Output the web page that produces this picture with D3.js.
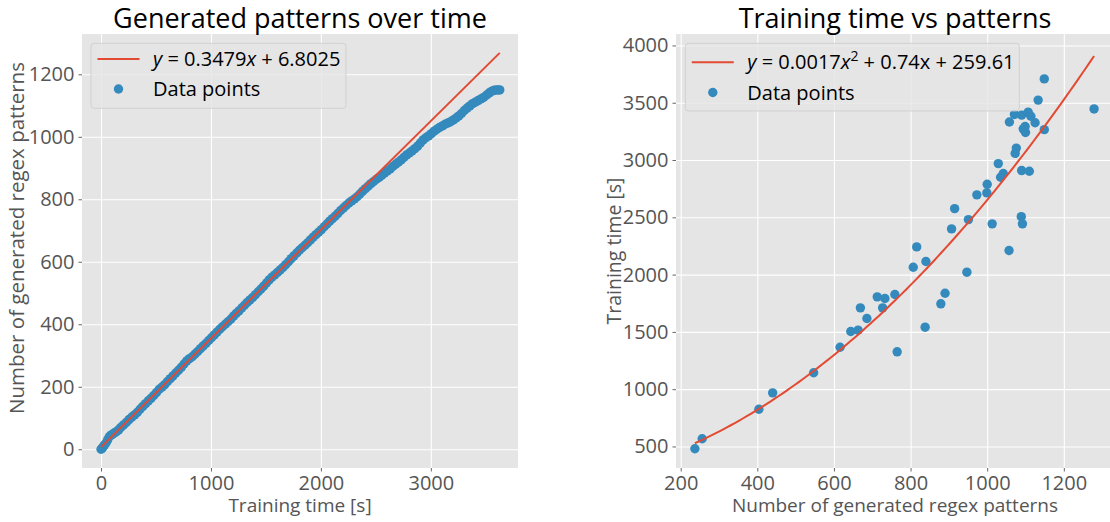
<!DOCTYPE html>
<html>
<head>
<meta charset="utf-8">
<script src="https://cdn.jsdelivr.net/npm/d3@7"></script>
<style>
  html, body { margin: 0; padding: 0; background: #ffffff; }
  svg { display: block; font-family: "Open Sans", "Noto Sans", sans-serif; }
</style>
</head>
<body>
<svg id="chart" width="1110" height="522"></svg>
<script>
// ---- Left panel: cumulative number of generated patterns vs training time ----
const trainTime = [0, 10, 20, 30, 45, 60, 75, 90, 105, 120, 140, 160, 180, 205, 230, 255, 280, 305,
  330, 355, 380, 405, 430, 455, 480, 505, 530, 555, 580, 605, 630, 655, 680, 705, 730, 755, 780,
  805, 830, 855, 880, 905, 930, 955, 980, 1005, 1030, 1055, 1080, 1105, 1130, 1155, 1180, 1205,
  1230, 1255, 1280, 1305, 1330, 1355, 1380, 1405, 1430, 1455, 1480, 1505, 1530, 1555, 1580, 1605,
  1630, 1655, 1680, 1705, 1730, 1755, 1780, 1805, 1830, 1855, 1880, 1905, 1930, 1955, 1980, 2005,
  2030, 2055, 2080, 2105, 2130, 2155, 2180, 2205, 2230, 2255, 2280, 2305, 2330, 2355, 2380, 2405,
  2430, 2455, 2480, 2505, 2530, 2555, 2580, 2605, 2630, 2655, 2680, 2705, 2730, 2755, 2780, 2805,
  2830, 2855, 2880, 2905, 2930, 2955, 2980, 3005, 3030, 3055, 3080, 3105, 3130, 3155, 3180, 3205,
  3230, 3255, 3280, 3305, 3330, 3355, 3380, 3405, 3430, 3455, 3480, 3505, 3530, 3550, 3570, 3590,
  3610, 3627];
const patternCount = [0, 3, 8, 13, 20, 30, 40, 45, 48, 52, 56, 62, 70, 78, 86, 95, 103, 110,
  118, 128, 137, 146, 155, 163, 172, 182, 192, 199, 207, 217, 226, 235, 244, 253, 262, 273, 283,
  290, 296, 305, 313, 322, 331, 339, 348, 357, 366, 375, 384, 392, 400, 408, 416, 426,
  435, 443, 452, 461, 470, 478, 486, 495, 504, 513, 522, 532, 542, 551, 558, 566,
  574, 582, 591, 600, 610, 619, 628, 637, 645, 653, 661, 670, 679, 687, 695, 703,
  712, 721, 730, 738, 746, 755, 764, 772, 780, 788, 795, 801, 808, 817, 826, 834,
  842, 850, 857, 864, 870, 877, 884, 891, 897, 905, 912, 919, 926, 934, 942, 948,
  955, 962, 970, 980, 990, 997, 1003, 1010, 1018, 1024, 1030, 1035, 1040, 1044, 1048, 1054,
  1060, 1067, 1075, 1084, 1092, 1099, 1106, 1111, 1116, 1121, 1126, 1133, 1140, 1145, 1148, 1150,
  1150, 1150];
const linearFit = [0.3479, 6.8025];          // slope, intercept
const leftXTicks = [0, 1000, 2000, 3000];
const leftYTicks = [0, 200, 400, 600, 800, 1000, 1200];

// ---- Right panel: training time vs number of generated patterns ----
const patternsN = [237, 256, 404, 440, 547, 616, 644, 663, 686, 669, 713, 727, 733, 759, 765, 807,
  816, 840, 838, 879, 890, 947, 1057, 907, 915, 951, 973, 1000, 999, 1013, 1029, 1042, 1035,
  1073, 1076, 1090, 1110, 1089, 1092, 1058, 1071, 1090, 1107, 1114, 1125, 1094, 1099, 1100,
  1133, 1149, 1279, 1149];
const trainingSecs = [480, 567, 825, 968, 1143, 1366, 1503, 1515, 1617, 1710, 1806, 1710, 1791, 1826,
  1326, 2064, 2242, 2114, 1541, 1745, 1837, 2021, 2210, 2399, 2576, 2480, 2696, 2788, 2713, 2443,
  2969, 2882, 2850, 3058, 3104, 2908, 2902, 2506, 2443, 3332, 3398, 3392, 3418, 3382, 3325, 3272,
  3292, 3240, 3523, 3265, 3446, 3708];
const quadFit = [0.001652, 0.74, 259.61];   // a, b, c of a*x^2 + b*x + c
const rightXTicks = [200, 400, 600, 800, 1000, 1200];
const rightYTicks = [500, 1000, 1500, 2000, 2500, 3000, 3500, 4000];

const C = {
  bg: "#E5E5E5", grid: "#FFFFFF", blue: "#348ABD", red: "#E24A33",
  tick: "#555555", legendEdge: "#CCCCCC"
};
const FS = { tick: 20, label: 19, legend: 20, title: 27 };
const MARKER_R = 4.7;

const svg = d3.select("#chart");
const plotTop = 34, plotBottom = 468;

function panel(opts) {
  const g = svg.append("g");
  const x = d3.scaleLinear().domain(opts.xDomain).range([opts.left, opts.right]);
  const y = d3.scaleLinear().domain(opts.yDomain).range([plotBottom, plotTop]);

  g.append("rect")
    .attr("x", opts.left).attr("y", plotTop)
    .attr("width", opts.right - opts.left).attr("height", plotBottom - plotTop)
    .attr("fill", C.bg);

  // grid
  const gx = g.append("g").attr("transform", `translate(0,${plotBottom})`)
    .call(d3.axisBottom(x).tickValues(opts.xTicks).tickSize(-(plotBottom - plotTop)).tickFormat(""));
  const gy = g.append("g").attr("transform", `translate(${opts.left},0)`)
    .call(d3.axisLeft(y).tickValues(opts.yTicks).tickSize(-(opts.right - opts.left)).tickFormat(""));
  [gx, gy].forEach(a => {
    a.select(".domain").remove();
    a.selectAll("line").attr("stroke", C.grid).attr("stroke-width", 1.1);
  });

  // tick marks and labels
  const ax = g.append("g").attr("transform", `translate(0,${plotBottom})`)
    .call(d3.axisBottom(x).tickValues(opts.xTicks).tickSize(3.5).tickPadding(4).tickFormat(d3.format("d")));
  const ay = g.append("g").attr("transform", `translate(${opts.left},0)`)
    .call(d3.axisLeft(y).tickValues(opts.yTicks).tickSize(3.5).tickPadding(4).tickFormat(d3.format("d")));
  [ax, ay].forEach(a => {
    a.select(".domain").remove();
    a.selectAll("line").attr("stroke", C.tick).attr("stroke-width", 0.9);
    a.selectAll("text").attr("fill", C.tick).attr("font-size", FS.tick)
      .attr("font-family", '"Open Sans", sans-serif');
  });
  ax.selectAll("text").attr("dy", null).attr("y", 22);

  // title and axis labels
  const cx = (opts.left + opts.right) / 2;
  svg.append("text").attr("x", cx).attr("y", 28).attr("text-anchor", "middle")
    .attr("font-size", FS.title).attr("fill", "#000").text(opts.title);
  svg.append("text").attr("x", cx).attr("y", 512).attr("text-anchor", "middle")
    .attr("font-size", FS.label).attr("fill", C.tick).text(opts.xLabel);
  svg.append("text")
    .attr("transform", `translate(${opts.yLabelX},${opts.yLabelMid}) rotate(-90)`)
    .attr("text-anchor", "middle").attr("dy", "0.35em")
    .attr("font-size", opts.yLabelSize).attr("fill", C.tick).text(opts.yLabel);

  const clipId = "clip" + opts.id;
  svg.append("clipPath").attr("id", clipId).append("rect")
    .attr("x", opts.left).attr("y", plotTop)
    .attr("width", opts.right - opts.left).attr("height", plotBottom - plotTop);
  const body = g.append("g").attr("clip-path", `url(#${clipId})`);
  return { x, y, body };
}

function legend(left, top, width, height, row1, row2, row1Text) {
  const g = svg.append("g");
  g.append("rect").attr("x", left).attr("y", top).attr("width", width).attr("height", height)
    .attr("rx", 3).attr("fill", C.bg).attr("fill-opacity", 0.8)
    .attr("stroke", C.legendEdge).attr("stroke-opacity", 0.8).attr("stroke-width", 1);
  g.append("line").attr("x1", left + 6.5).attr("x2", left + 48.5)
    .attr("y1", row1 - 7).attr("y2", row1 - 7)
    .attr("stroke", C.red).attr("stroke-width", 2);
  g.append("circle").attr("cx", left + 27.5).attr("cy", row2 - 7).attr("r", MARKER_R).attr("fill", C.blue);
  const t1 = g.append("text").attr("x", left + 62).attr("y", row1).attr("font-size", FS.legend).attr("fill", "#000");
  row1Text(t1);
  g.append("text").attr("x", left + 62).attr("y", row2).attr("font-size", FS.legend).attr("fill", "#000")
    .text("Data points");
}

// ---------- left panel ----------
const L = panel({
  id: "L", left: 82, right: 518, xDomain: [-173, 3793], yDomain: [-60, 1329],
  xTicks: leftXTicks, yTicks: leftYTicks,
  title: "Generated patterns over time", xLabel: "Training time [s]",
  yLabel: "Number of generated regex patterns", yLabelX: 17, yLabelMid: 238, yLabelSize: 20.5
});
L.body.selectAll("circle").data(trainTime).join("circle")
  .attr("cx", d => L.x(d)).attr("cy", (d, i) => L.y(patternCount[i]))
  .attr("r", MARKER_R).attr("fill", C.blue);
const tSpan = d3.extent(trainTime);
L.body.append("line")
  .attr("x1", L.x(tSpan[0])).attr("y1", L.y(linearFit[0] * tSpan[0] + linearFit[1]))
  .attr("x2", L.x(tSpan[1])).attr("y2", L.y(linearFit[0] * tSpan[1] + linearFit[1]))
  .attr("stroke", C.red).attr("stroke-width", 2);
legend(91, 43.3, 255, 65, 66, 96, t => {
  t.append("tspan").attr("font-style", "italic").text("y");
  t.append("tspan").text(` = ${linearFit[0].toFixed(4)}`);
  t.append("tspan").attr("font-style", "italic").text("x");
  t.append("tspan").text(` + ${linearFit[1].toFixed(4)}`);
});

// ---------- right panel ----------
const R = panel({
  id: "R", left: 676, right: 1114, xDomain: [187.7, 1331], yDomain: [312, 4100],
  xTicks: rightXTicks, yTicks: rightYTicks,
  title: "Training time vs patterns", xLabel: "Number of generated regex patterns",
  yLabel: "Training time [s]", yLabelX: 614, yLabelMid: 251, yLabelSize: 19.5
});
R.body.selectAll("circle").data(patternsN).join("circle")
  .attr("cx", d => R.x(d)).attr("cy", (d, i) => R.y(trainingSecs[i]))
  .attr("r", MARKER_R).attr("fill", C.blue);
const quad = v => quadFit[0] * v * v + quadFit[1] * v + quadFit[2];
const nSpan = d3.extent(patternsN);
const curveX = d3.range(0, 101).map(k => nSpan[0] + (nSpan[1] - nSpan[0]) * k / 100);
R.body.append("path").datum(curveX)
  .attr("d", d3.line().x(d => R.x(d)).y(d => R.y(quad(d))))
  .attr("fill", "none").attr("stroke", C.red).attr("stroke-width", 2);
legend(685.3, 43.3, 334, 67.7, 69.3, 99.5, t => {
  t.append("tspan").attr("font-style", "italic").text("y");
  t.append("tspan").text(` = ${quadFit[0].toFixed(4)}`);
  t.append("tspan").attr("font-style", "italic").text("x");
  t.append("tspan").attr("font-size", 14).attr("dy", -8).text("2");
  t.append("tspan").attr("dy", 8).text(` + ${quadFit[1].toFixed(2)}x + ${quadFit[2].toFixed(2)}`);
});
</script>
</body>
</html>
